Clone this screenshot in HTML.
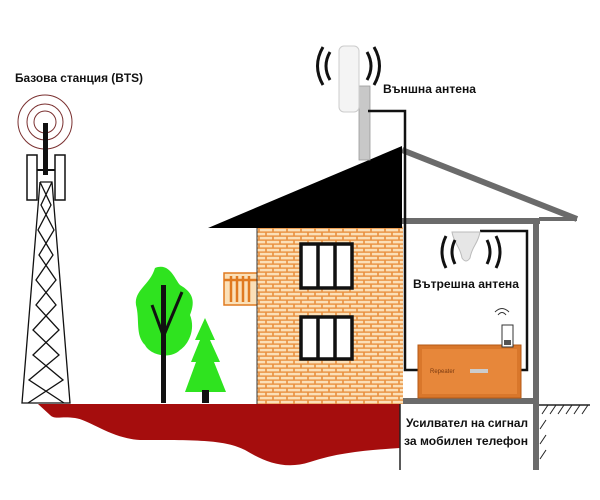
<!DOCTYPE html>
<html><head><meta charset="utf-8"><style>
html,body{margin:0;padding:0;background:#fff;}
svg{display:block;}
text{font-family:"Liberation Sans","DejaVu Sans",sans-serif;font-weight:bold;fill:#111;}
</style></head><body>
<svg width="600" height="500" viewBox="0 0 600 500" xmlns="http://www.w3.org/2000/svg">
<defs>
<pattern id="brick" width="14" height="8" patternUnits="userSpaceOnUse">
<rect width="14" height="8" fill="#e9913f"/>
<rect x="0.8" y="0.8" width="12.4" height="2.6" fill="#fbe0b8"/>
<rect x="-6.2" y="4.8" width="12.4" height="2.6" fill="#fbe0b8"/>
<rect x="7.8" y="4.8" width="12.4" height="2.6" fill="#fbe0b8"/>
</pattern>
</defs>

<path d="M38,404 L400,404 L400,448 C370,450 340,452 310,462 C285,470 265,462 245,450 C225,440 200,440 140,440 C110,438 90,420 75,418 C60,416 55,420 50,415 Z" fill="#a50d0d"/>
<line x1="400" y1="402" x2="400" y2="470" stroke="#222" stroke-width="1.5"/>

<g fill="none" stroke="#7a3030" stroke-width="1">
<circle cx="45" cy="122" r="11"/><circle cx="45" cy="122" r="18"/><circle cx="45" cy="122" r="27"/>
</g>
<rect x="43" y="123" width="5" height="52" fill="#111"/>
<rect x="27" y="155" width="10" height="45" fill="#fff" stroke="#111" stroke-width="1.5"/>
<rect x="55" y="155" width="10" height="45" fill="#fff" stroke="#111" stroke-width="1.5"/>
<line x1="37" y1="170" x2="55" y2="170" stroke="#111" stroke-width="2"/>
<g stroke="#111" stroke-width="1.3" fill="none">
<polyline points="40,182 22,403 70,403 52,182 40,182"/>
<path d="M40,182 L51,205 L38,230 L53,255 L36,280 L56,305 L33,330 L59,355 L29,380 L64,403 M52,182 L41,205 L54,230 L39,255 L56,280 L36,305 L59,330 L33,355 L63,380 L28,403"/>
</g>

<path d="M155,268 C170,262 175,280 180,285 C192,292 196,300 190,315 C196,330 188,345 180,350 C170,360 150,355 145,345 C135,335 140,320 136,305 C134,290 150,285 155,268 Z" fill="#2fe31f"/>
<rect x="161" y="285" width="5" height="118" fill="#111"/>
<path d="M163,335 L152,305 M164,335 L182,292" stroke="#111" stroke-width="3"/>
<path d="M205,318 L215,340 L210,340 L220,362 L214,362 L226,392 L185,392 L196,362 L191,362 L200,340 L195,340 Z" fill="#2fe31f"/>
<rect x="202" y="390" width="7" height="13" fill="#111"/>

<rect x="224" y="273" width="34" height="32" fill="#fbe0b8" stroke="#e07a20" stroke-width="1.5"/>
<g stroke="#e07a20" stroke-width="2.5"><line x1="231" y1="276" x2="231" y2="302"/><line x1="237" y1="276" x2="237" y2="302"/><line x1="243" y1="276" x2="243" y2="302"/><line x1="249" y1="276" x2="249" y2="302"/><line x1="224" y1="280" x2="258" y2="280"/></g>

<rect x="257" y="226" width="146" height="178" fill="url(#brick)"/>
<line x1="257" y1="226" x2="257" y2="404" stroke="#333" stroke-width="1"/>
<g fill="#fff" stroke="#111" stroke-width="3.5">
<rect x="301" y="244" width="51" height="44"/>
<rect x="301" y="317" width="51" height="42"/>
</g>
<g stroke="#111" stroke-width="3.5"><line x1="318" y1="244" x2="318" y2="288"/><line x1="335" y1="244" x2="335" y2="288"/><line x1="318" y1="317" x2="318" y2="359"/><line x1="335" y1="317" x2="335" y2="359"/></g>

<g stroke="#6b6b6b" stroke-width="6" fill="none">
<polyline points="402,150 577,219"/>
<line x1="402" y1="221" x2="540" y2="221"/>
<line x1="536" y1="218" x2="536" y2="470"/>
<line x1="403" y1="401" x2="539" y2="401"/>
</g>
<line x1="539" y1="219" x2="577" y2="219" stroke="#6b6b6b" stroke-width="4"/>
<line x1="539" y1="405" x2="590" y2="405" stroke="#222" stroke-width="1.5"/>
<g stroke="#222" stroke-width="1">
<line x1="548" y1="405" x2="542" y2="414"/><line x1="556" y1="405" x2="550" y2="414"/><line x1="564" y1="405" x2="558" y2="414"/><line x1="572" y1="405" x2="566" y2="414"/><line x1="580" y1="405" x2="574" y2="414"/><line x1="588" y1="405" x2="582" y2="414"/>
<line x1="546" y1="420" x2="540" y2="429"/><line x1="546" y1="435" x2="540" y2="444"/><line x1="546" y1="450" x2="540" y2="459"/>
</g>
<polygon points="208,228 402,146 402,228" fill="#000"/>

<rect x="359" y="86" width="11" height="74" fill="#c8c8c8" stroke="#999" stroke-width="0.8"/>
<rect x="339" y="46" width="20" height="66" rx="5" fill="#f4f4f4" stroke="#ccc" stroke-width="1"/>
<g fill="none" stroke="#111" stroke-width="3">
<path d="M330,52 Q322,66 330,80"/><path d="M323,47 Q312,66 323,85"/>
<path d="M367,52 Q375,66 367,80"/><path d="M374,47 Q385,66 374,85"/>
</g>
<polyline points="368,111 405,111 405,370 418,370" fill="none" stroke="#111" stroke-width="2.5"/>
<polyline points="520,370 527,370 527,231 480,231" fill="none" stroke="#111" stroke-width="2.5"/>

<path d="M452,232 L480,232 C478,244 472,246 470,258 Q466,264 462,258 C460,246 454,244 452,232 Z" fill="#e6e6e6" stroke="#bbb" stroke-width="1"/>
<g fill="none" stroke="#111" stroke-width="3">
<path d="M455,240 Q449,252 455,264"/><path d="M446,236 Q438,252 446,268"/>
<path d="M487,240 Q493,252 487,264"/><path d="M496,236 Q504,252 496,268"/>
</g>

<rect x="418" y="345" width="103" height="53" fill="#d9772b" stroke="#b55a15" stroke-width="1"/>
<rect x="422" y="349" width="95" height="45" fill="#e7873a"/>
<text x="430" y="373" font-size="6" style="font-weight:normal;fill:#7a3a10">Repeater</text>
<rect x="470" y="369" width="18" height="4" fill="#ccc"/>

<rect x="502" y="325" width="11" height="22" fill="#fff" stroke="#333" stroke-width="1"/>
<rect x="504" y="340" width="7" height="5" fill="#555"/>
<g fill="none" stroke="#333" stroke-width="1"><path d="M498,315 Q502,310 506,315"/><path d="M495,312 Q502,305 509,312"/></g>

<text x="15" y="82" font-size="12" textLength="128" lengthAdjust="spacingAndGlyphs">Базова станция (BTS)</text>
<text x="383" y="93" font-size="12" textLength="93" lengthAdjust="spacingAndGlyphs">Външна антена</text>
<text x="413" y="288" font-size="12" textLength="106" lengthAdjust="spacingAndGlyphs">Вътрешна антена</text>
<text x="406" y="427" font-size="12" textLength="122" lengthAdjust="spacingAndGlyphs">Усилвател на сигнал</text>
<text x="404" y="445" font-size="12" textLength="124" lengthAdjust="spacingAndGlyphs">за мобилен телефон</text>
</svg>
</body></html>
